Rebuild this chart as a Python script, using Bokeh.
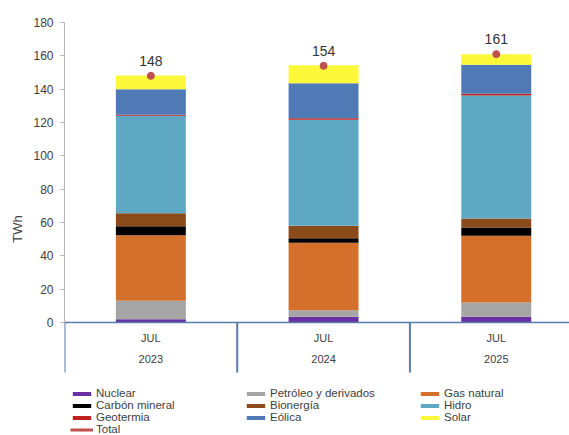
from bokeh.plotting import figure
from bokeh.models import Range1d, FixedTicker, Legend, LegendItem, ColumnDataSource, Span
from bokeh.core.properties import value
from bokeh.embed import file_html
from bokeh.resources import INLINE

# ---- data (TWh) ----
months = ["JUL", "JUL", "JUL"]
years = ["2023", "2024", "2025"]
nuclear = [2.0, 3.4, 3.4]
petroleo = [11.0, 4.0, 8.6]
gas_natural = [39.4, 40.4, 40.0]
carbon = [5.4, 2.8, 5.0]
bioenergia = [7.8, 7.4, 5.4]
hidro = [58.4, 63.6, 73.8]
geotermia = [0.6, 1.0, 1.0]
eolica = [15.4, 21.0, 17.4]
solar = [8.2, 10.8, 6.4]
total = [148, 154, 161]
y_ticks = [0, 20, 40, 60, 80, 100, 120, 140, 160, 180]

series_names = ["Nuclear", "Petróleo y derivados", "Gas natural", "Carbón mineral",
                "Bionergía", "Hidro", "Geotermia", "Eólica", "Solar"]
series_values = [nuclear, petroleo, gas_natural, carbon, bioenergia, hidro,
                 geotermia, eolica, solar]
colors = ["#6a2fa0", "#a5a5a5", "#d4702c", "#000000", "#8b4a1a",
          "#5fa8c3", "#c0201e", "#4f7ab6", "#fdf83a"]

FONT = "Liberation Sans"
TXT = "#404040"
AXBLUE = "#5a7bab"

n = len(years)
xs = [i + 0.5 for i in range(n)]
seps = [float(i) for i in range(n + 1)]
base = [y_ticks[0]] * n
keys = ["s%d" % i for i in range(len(series_names))]
data = {"x": xs}
for k, v in zip(keys, series_values):
    data[k] = v
src = ColumnDataSource(data)

# frame covers the plot and the category/legend area below the zero line
p = figure(width=569, height=435, output_backend="svg", toolbar_location=None,
           x_range=Range1d(0, 2.924), y_range=Range1d(-67.8, 180),
           x_axis_location=None,
           min_border_left=64, min_border_top=22, min_border_right=0,
           min_border_bottom=0)
p.outline_line_color = None
p.xgrid.visible = False
p.ygrid.visible = False
p.background_fill_color = "white"

bars = p.vbar_stack(keys, x="x", width=0.405, fill_color=colors, line_color=None, source=src)

# category axis: baseline, group separators and two label rows
p.add_layout(Span(location=y_ticks[0], dimension="width", line_color=AXBLUE, line_width=1.5))
p.ray(x=seps, y=[y_ticks[0]] * len(seps), length=50, length_units="screen",
      angle=-90, angle_units="deg", line_color=AXBLUE, line_width=2)
p.text(xs, base, text=months, text_align="center", text_baseline="middle",
       y_offset=15, text_font_size="11px", text_color=TXT, text_font=value(FONT))
p.text(xs, base, text=years, text_align="center", text_baseline="middle",
       y_offset=36, text_font_size="11px", text_color=TXT, text_font=value(FONT))

# total markers
tot_line = p.multi_line(xs=[[x] for x in xs], ys=[[t] for t in total],
                        line_color="#c0504d", line_width=3)
tot_pts = p.scatter(xs, total, size=7, fill_color="#c0504d", line_color="#c0504d")
p.text(xs, total, text=[str(t) for t in total], text_align="center",
       text_baseline="bottom", y_offset=-10, text_font_size="14px",
       text_color="#333333", text_font=value(FONT))

# y axis
ya = p.yaxis[0]
ya.ticker = FixedTicker(ticks=y_ticks)
ya.bounds = (y_ticks[0], y_ticks[-1])
ya.axis_label = "TWh"
ya.axis_label_text_font_style = "normal"
ya.axis_label_text_font_size = "13px"
ya.axis_label_text_font = FONT
ya.axis_label_text_color = TXT
ya.axis_label_standoff = 5
ya.major_label_text_font = FONT
ya.major_label_text_font_size = "12px"
ya.major_label_text_color = TXT
ya.major_label_standoff = 7
ya.axis_line_color = "#b4b4b4"
ya.major_tick_line_color = "#b4b4b4"
ya.major_tick_out = 4
ya.major_tick_in = 0
ya.minor_tick_line_color = None

# legend: 3 columns, row-major order
items = [LegendItem(label=nm, renderers=[r]) for nm, r in zip(series_names, bars)]
items.append(LegendItem(label="Total", renderers=[tot_line, tot_pts]))
leg = Legend(items=items, location=(6, 0), orientation="horizontal", ncols=3,
             border_line_color=None, background_fill_alpha=0, padding=0, margin=0,
             spacing=0, glyph_width=23, glyph_height=5, label_standoff=3,
             label_width=148, label_height=12,
             label_text_font=FONT, label_text_font_size="11.5px",
             label_text_color=TXT, label_text_baseline="middle")
p.add_layout(leg, "center")

open("out.html", "w").write(file_html(p, INLINE))
